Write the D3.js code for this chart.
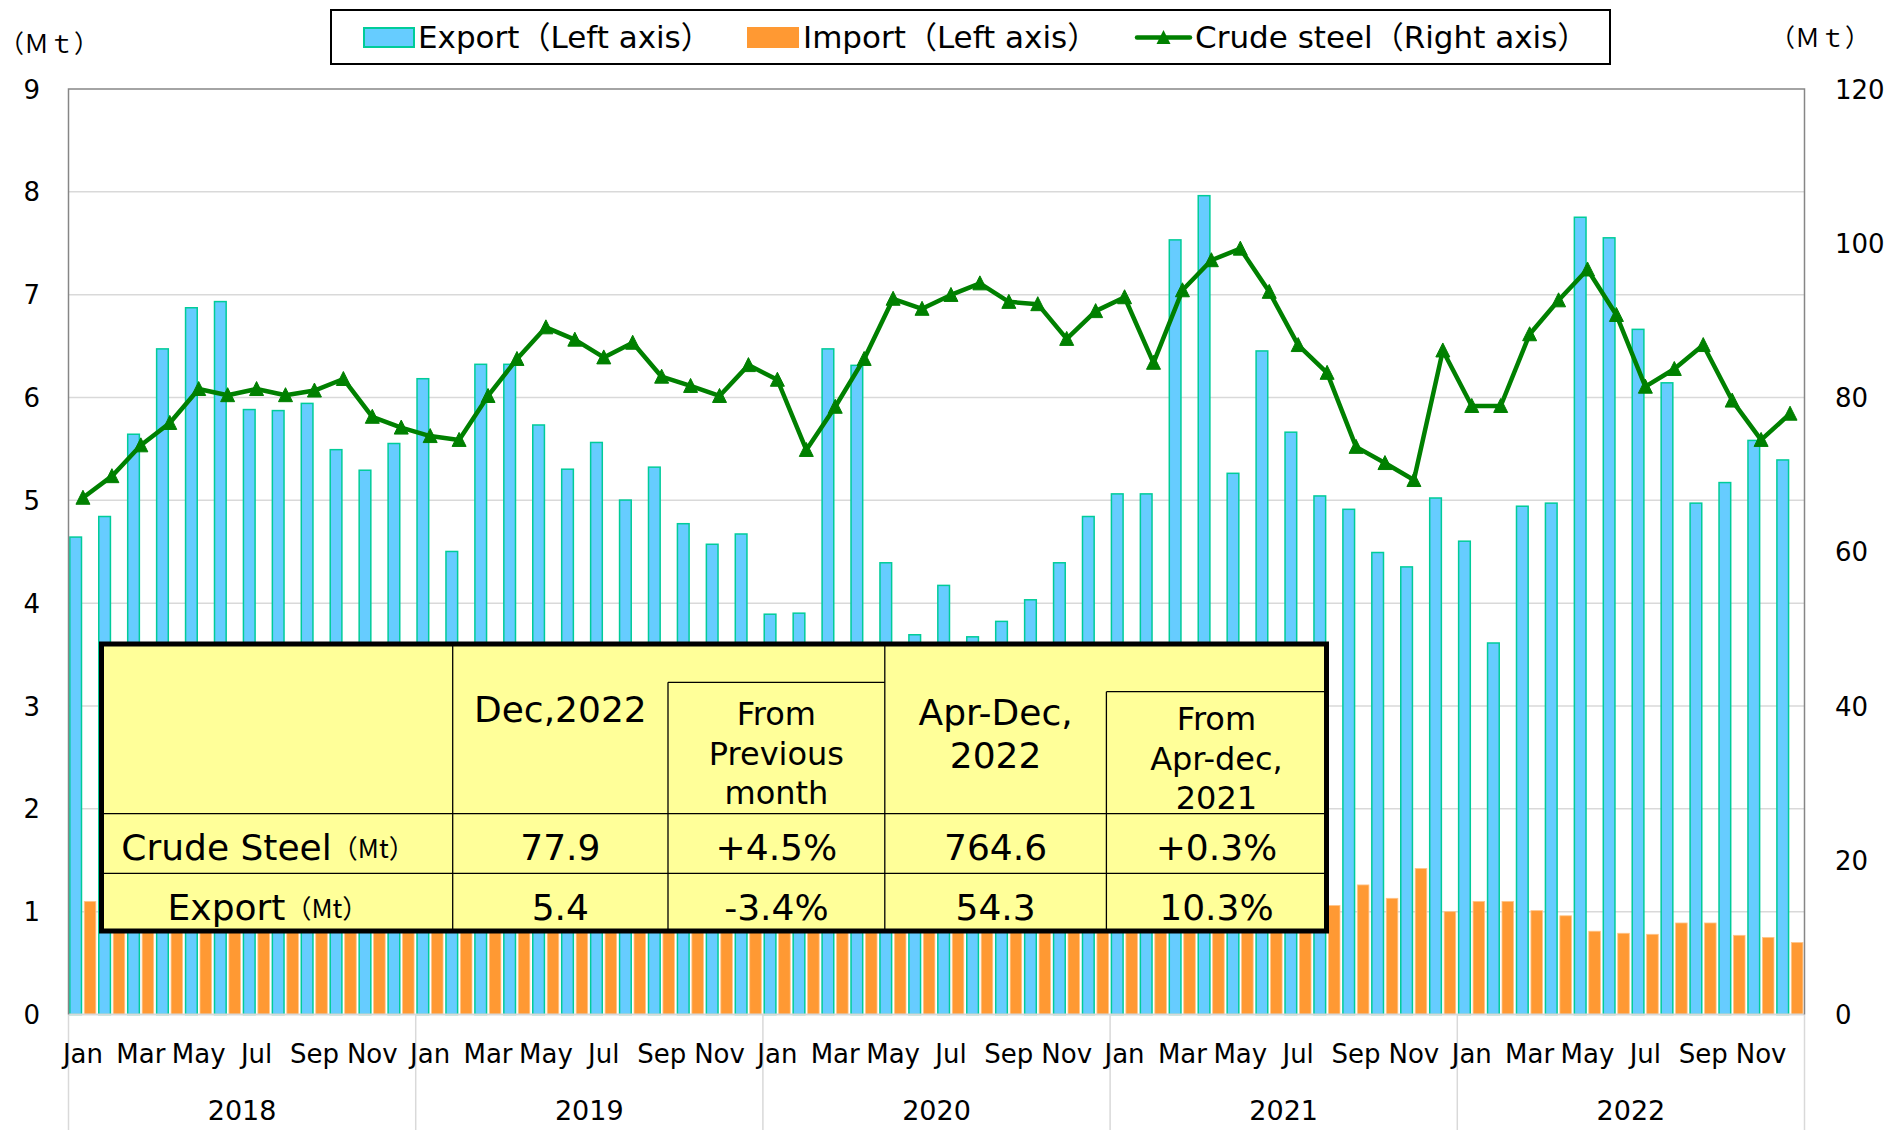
<!DOCTYPE html>
<html>
<head>
<meta charset="utf-8">
<script src="https://cdn.jsdelivr.net/npm/d3@7"></script>
<style>
  html, body { margin: 0; padding: 0; background: #fff; }
  svg { display: block; }
  text { font-family: "DejaVu Sans", "Noto Sans CJK JP", sans-serif; fill: #000; }
</style>
</head>
<body>
<svg id="chart" width="1884" height="1139"></svg>
<script>
// ---------------- DATA ----------------
const years = ["2018", "2019", "2020", "2021", "2022"];
const monthNames = ["Jan","Feb","Mar","Apr","May","Jun","Jul","Aug","Sep","Oct","Nov","Dec"];

// Export (Mt, left axis)
const exportValues = [
  4.65, 4.85, 5.65, 6.48, 6.88, 6.94, 5.89, 5.88, 5.95, 5.50, 5.30, 5.56,
  6.19, 4.51, 6.33, 6.33, 5.74, 5.31, 5.57, 5.01, 5.33, 4.78, 4.58, 4.68,
  3.90, 3.91, 6.48, 6.32, 4.40, 3.70, 4.18, 3.68, 3.83, 4.04, 4.40, 4.85,
  5.07, 5.07, 7.54, 7.97, 5.27, 6.46, 5.67, 5.05, 4.92, 4.50, 4.36, 5.03,
  4.61, 3.62, 4.95, 4.98, 7.76, 7.56, 6.67, 6.15, 4.98, 5.18, 5.59, 5.40
];
// Import (Mt, left axis) - partly hidden behind the table in the original
const importValues = [
  1.10, 1.01, 1.23, 1.12, 1.12, 1.11, 1.12, 1.15, 1.03, 1.10, 1.00, 1.06,
  1.08, 0.88, 1.02, 1.11, 1.02, 1.08, 1.04, 1.00, 1.01, 1.00, 1.00, 1.06,
  1.00, 1.00, 1.09, 1.34, 1.26, 2.48, 2.53, 2.46, 2.00, 1.84, 1.73, 1.61,
  1.49, 1.23, 1.32, 1.21, 1.20, 1.13, 1.14, 1.06, 1.26, 1.13, 1.42, 1.00,
  1.10, 1.10, 1.01, 0.96, 0.81, 0.79, 0.78, 0.89, 0.89, 0.77, 0.75, 0.70
];
// Crude steel (Mt, right axis)
const crudeSteelValues = [
  67.0, 69.8, 73.8, 76.7, 81.1, 80.3, 81.1, 80.3, 80.9, 82.4, 77.5, 76.1,
  75.0, 74.5, 80.2, 85.0, 89.1, 87.5, 85.2, 87.1, 82.7, 81.5, 80.2, 84.2,
  82.3, 73.2, 78.8, 85.0, 92.8, 91.5, 93.3, 94.8, 92.4, 92.1, 87.6, 91.2,
  93.0, 84.5, 93.9, 97.8, 99.3, 93.7, 86.8, 83.2, 73.6, 71.5, 69.3, 86.1,
  78.9, 78.9, 88.2, 92.6, 96.6, 90.7, 81.4, 83.7, 86.8, 79.6, 74.5, 77.9
];

const leftTicks = [0, 1, 2, 3, 4, 5, 6, 7, 8, 9];
const rightTicks = [0, 20, 40, 60, 80, 100, 120];
const monthTickLabels = ["Jan", "Mar", "May", "Jul", "Sep", "Nov"];

const legendLabels = ["Export（Left axis）", "Import（Left axis）", "Crude steel（Right axis）"];
const unitLabel = "（Ｍｔ）";

// Summary table
const tableHeaderMain = ["Dec,2022", "Apr-Dec,\n2022"];
const tableHeaderSub = ["From\nPrevious\nmonth", "From\nApr-dec,\n2021"];
const tableRowLabels = ["Crude Steel", "Export"];
const tableRowUnit = "（Mt）";
const tableRows = [
  ["77.9", "+4.5%", "764.6", "+0.3%"],
  ["5.4", "-3.4%", "54.3", "10.3%"]
];

// ---------------- CHART ----------------
const categories = [];
years.forEach(y => monthNames.forEach(m => categories.push(y + "-" + m)));

const svg = d3.select("#chart");
const plot = { left: 68.5, right: 1804.5, top: 89, bottom: 1014.5 };

const x = d3.scaleBand().domain(categories).range([plot.left, plot.right]).padding(0);
const yL = d3.scaleLinear().domain([0, 9]).range([plot.bottom, plot.top]);
const yR = d3.scaleLinear().domain([0, 120]).range([plot.bottom, plot.top]);
const bw = x.bandwidth();

const C = {
  blue: "#66CCFF", blueEdge: "#00CC99", orange: "#FF9933",
  green: "#008000", grid: "#D9D9D9", frame: "#868686", yellow: "#FFFF99"
};

// gridlines
svg.append("g").selectAll("line").data(leftTicks.filter(t => t > 0 && t < 9)).join("line")
  .attr("x1", plot.left).attr("x2", plot.right)
  .attr("y1", d => yL(d)).attr("y2", d => yL(d))
  .attr("stroke", C.grid).attr("stroke-width", 1.5);

// category axis: year separators
const yearBounds = d3.range(years.length + 1).map(i => plot.left + i * 12 * bw);
svg.append("g").selectAll("line").data(yearBounds).join("line")
  .attr("x1", d => d).attr("x2", d => d)
  .attr("y1", plot.bottom).attr("y2", 1130)
  .attr("stroke", C.grid).attr("stroke-width", 1.5);

// bars
const bars = svg.append("g");
bars.selectAll("rect.exp").data(exportValues).join("rect")
  .attr("class", "exp")
  .attr("x", (d, i) => x(categories[i]) + 0.02 * bw + 0.75)
  .attr("width", 0.455 * bw - 1.5)
  .attr("y", d => yL(d) + 0.75)
  .attr("height", d => yL(0) - yL(d) - 0.75)
  .attr("fill", C.blue).attr("stroke", C.blueEdge).attr("stroke-width", 1.5);
bars.selectAll("rect.imp").data(importValues).join("rect")
  .attr("class", "imp")
  .attr("x", (d, i) => x(categories[i]) + 0.545 * bw)
  .attr("width", 0.40 * bw)
  .attr("y", d => yL(d))
  .attr("height", d => yL(0) - yL(d))
  .attr("fill", C.orange).attr("stroke", "#FFC58A").attr("stroke-width", 0.8);

// baseline
svg.append("line").attr("x1", plot.left).attr("x2", plot.right)
  .attr("y1", plot.bottom).attr("y2", plot.bottom)
  .attr("stroke", C.grid).attr("stroke-width", 2);

// frame (left, top, right)
svg.append("path")
  .attr("d", `M${plot.left},${plot.bottom}V${plot.top}H${plot.right}V${plot.bottom}`)
  .attr("fill", "none").attr("stroke", C.frame).attr("stroke-width", 1.5);

// crude steel line
const cx = i => x(categories[i]) + bw / 2;
const line = d3.line().x((d, i) => cx(i)).y(d => yR(d));
svg.append("path").datum(crudeSteelValues).attr("d", line)
  .attr("fill", "none").attr("stroke", C.green).attr("stroke-width", 4.5)
  .attr("stroke-linejoin", "round");
const tri = "M0,-7.5L7,6.5L-7,6.5Z";
svg.append("g").selectAll("path").data(crudeSteelValues).join("path")
  .attr("d", tri)
  .attr("transform", (d, i) => `translate(${cx(i)},${yR(d)})`)
  .attr("fill", C.green).attr("stroke", C.green).attr("stroke-width", 1);

// left axis labels
svg.append("g").selectAll("text").data(leftTicks).join("text")
  .attr("x", 40).attr("y", d => yL(d) + 9.5)
  .attr("text-anchor", "end").attr("font-size", 26)
  .text(d => d);
// right axis labels
svg.append("g").selectAll("text").data(rightTicks).join("text")
  .attr("x", 1835).attr("y", d => yR(d) + 9.5)
  .attr("text-anchor", "start").attr("font-size", 26)
  .text(d => d);

// unit labels
svg.append("text").attr("x", 49).attr("y", 53).attr("text-anchor", "middle")
  .attr("font-size", 25).attr("font-family", "Noto Sans CJK JP").text(unitLabel);
svg.append("text").attr("x", 1820).attr("y", 47).attr("text-anchor", "middle")
  .attr("font-size", 25).attr("font-family", "Noto Sans CJK JP").text(unitLabel);

// month labels
svg.append("g").selectAll("text")
  .data(categories.map((c, i) => i).filter(i => i % 2 === 0)).join("text")
  .attr("x", i => cx(i)).attr("y", 1063)
  .attr("text-anchor", "middle").attr("font-size", 26)
  .text(i => monthTickLabels[(i % 12) / 2]);
// year labels
svg.append("g").selectAll("text").data(years).join("text")
  .attr("x", (d, i) => (yearBounds[i] + yearBounds[i + 1]) / 2).attr("y", 1120)
  .attr("text-anchor", "middle").attr("font-size", 27)
  .text(d => d);

// ---------------- TABLE ----------------
const T = { x0: 101.5, x1: 1326.5, y0: 644, y1: 931 };
const colX = [T.x0, 452.7, 668, 884.8, 1106.4, T.x1];
const rowY = [T.y0, 813.7, 873.3, T.y1];
const tg = svg.append("g");
tg.append("rect").attr("x", T.x0).attr("y", T.y0)
  .attr("width", T.x1 - T.x0).attr("height", T.y1 - T.y0)
  .attr("fill", C.yellow);
const thin = (x1, y1, x2, y2) => tg.append("line")
  .attr("x1", x1).attr("y1", y1).attr("x2", x2).attr("y2", y2)
  .attr("stroke", "#000").attr("stroke-width", 1.3);
thin(colX[1], T.y0, colX[1], T.y1);
thin(colX[3], T.y0, colX[3], T.y1);
thin(colX[2], 682.3, colX[2], T.y1);
thin(colX[4], 691.7, colX[4], T.y1);
thin(colX[2], 682.3, colX[3], 682.3);
thin(colX[4], 691.7, T.x1, 691.7);
thin(T.x0, rowY[1], T.x1, rowY[1]);
thin(T.x0, rowY[2], T.x1, rowY[2]);
tg.append("rect").attr("x", T.x0).attr("y", T.y0)
  .attr("width", T.x1 - T.x0).attr("height", T.y1 - T.y0)
  .attr("fill", "none").attr("stroke", "#000").attr("stroke-width", 5);

function multiline(txt, cxp, firstBaseline, lh, fs) {
  const t = tg.append("text").attr("text-anchor", "middle").attr("font-size", fs);
  txt.split("\n").forEach((s, k) => {
    t.append("tspan").attr("x", cxp).attr("y", firstBaseline + k * lh).text(s);
  });
}
const mid = (a, b) => (a + b) / 2;
multiline(tableHeaderMain[0], mid(colX[1], colX[2]), 722, 43, 36);
multiline(tableHeaderSub[0], mid(colX[2], colX[3]), 725, 39.5, 32);
multiline(tableHeaderMain[1], mid(colX[3], colX[4]), 725, 43, 36);
multiline(tableHeaderSub[1], mid(colX[4], colX[5]), 730, 39.5, 32);

const rowBaseOffset = [16.5, 18];
tableRowLabels.forEach((lab, r) => {
  const yb = mid(rowY[r + 1], rowY[r + 2]) + rowBaseOffset[r];
  const t = tg.append("text").attr("x", 268).attr("y", yb)
    .attr("text-anchor", "middle").attr("font-size", 36);
  t.append("tspan").text(lab);
  t.append("tspan").attr("font-size", 26).attr("font-family", "Noto Sans CJK JP")
    .attr("dy", -2).text(tableRowUnit);
  tableRows[r].forEach((v, c) => {
    tg.append("text").attr("x", mid(colX[c + 1], colX[c + 2])).attr("y", yb)
      .attr("text-anchor", "middle").attr("font-size", 36).text(v);
  });
});

// ---------------- LEGEND ----------------
const lg = svg.append("g");
lg.append("rect").attr("x", 331).attr("y", 10).attr("width", 1279).attr("height", 54)
  .attr("fill", "#fff").attr("stroke", "#000").attr("stroke-width", 2);
lg.append("rect").attr("x", 364).attr("y", 28).attr("width", 50).attr("height", 19)
  .attr("fill", C.blue).attr("stroke", C.blueEdge).attr("stroke-width", 2);
lg.append("rect").attr("x", 747).attr("y", 27).attr("width", 52).attr("height", 21)
  .attr("fill", C.orange);
lg.append("line").attr("x1", 1137).attr("x2", 1190).attr("y1", 37.5).attr("y2", 37.5)
  .attr("stroke", C.green).attr("stroke-width", 4.5).attr("stroke-linecap", "round");
lg.append("path").attr("d", tri).attr("transform", "translate(1163.5,37.5)")
  .attr("fill", C.green);
const legendX = [418, 803, 1195];
legendLabels.forEach((s, i) => {
  lg.append("text").attr("x", legendX[i]).attr("y", 48).attr("font-size", 31).text(s);
});
</script>
</body>
</html>
